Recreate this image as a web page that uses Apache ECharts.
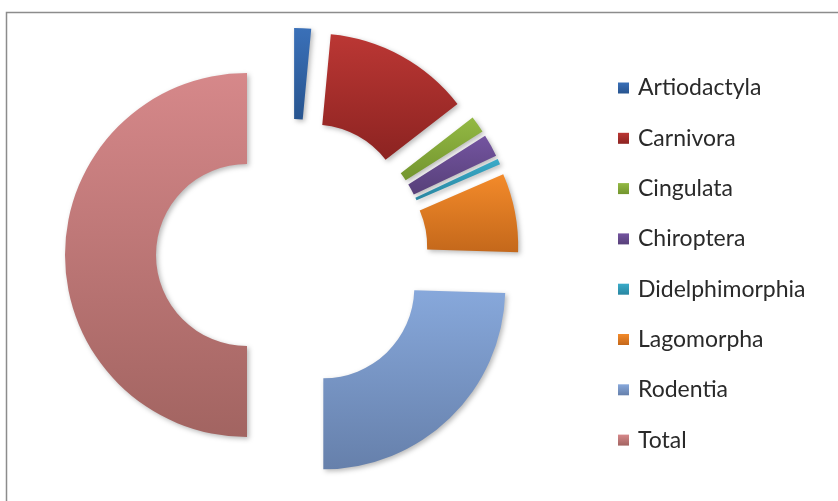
<!DOCTYPE html>
<html>
<head>
<meta charset="utf-8">
<style>
  html, body { margin: 0; padding: 0; background: #ffffff; }
  #chart { width: 838px; height: 501px; }
</style>
<script src="https://cdn.jsdelivr.net/npm/echarts@6/dist/echarts.min.js"></script>
</head>
<body>
<div id="chart"></div>
<script>
// Orders and their counts (Total is the sum of the other orders)
const categories = ['Artiodactyla', 'Carnivora', 'Cingulata', 'Chiroptera', 'Didelphimorphia', 'Lagomorpha', 'Rodentia', 'Total'];
const values = [3, 26, 3, 4, 1, 14, 49, 100];

// Top / bottom shades of each slice's vertical gradient
const topColors = ['#3a70b8', '#bb3734', '#93b944', '#7454a0', '#3aabc9', '#f38a2a', '#87a8db', '#d6888a'];
const bottomColors = ['#27548f', '#8c2321', '#73952e', '#574079', '#2986a1', '#c4681b', '#6680ab', '#a26461'];

function grad(i) {
  return {
    type: 'linear', x: 0, y: 0, x2: 0, y2: 1,
    colorStops: [
      { offset: 0, color: topColors[i] },
      { offset: 1, color: bottomColors[i] }
    ]
  };
}

const chart = echarts.init(document.getElementById('chart'), null, { renderer: 'canvas' });

const seriesData = categories.map((name, i) => ({
  name: name,
  value: values[i],
  selected: true,
  itemStyle: { color: grad(i) },
  select: { itemStyle: { color: grad(i) } }
}));

chart.setOption({
  backgroundColor: '#ffffff',
  animation: false,
  graphic: [{
    type: 'rect',
    shape: { x: 6.5, y: 12.5, width: 900, height: 600 },
    style: { fill: 'none', stroke: '#8c8c8c', lineWidth: 1.5 },
    silent: true
  }],
  legend: {
    orient: 'vertical',
    left: 618,
    top: 76,
    padding: 0,
    icon: 'rect',
    itemWidth: 11,
    itemHeight: 11,
    itemGap: 26.3,
    selectedMode: false,
    textStyle: {
      fontFamily: 'Lato',
      fontSize: 23,
      lineHeight: 24,
      color: '#2a2a2a',
      padding: [0, 0, 0, 4]
    },
    data: categories
  },
  series: [{
    type: 'pie',
    center: [292, 255],
    radius: [91, 182],
    startAngle: 90,
    clockwise: true,
    selectedMode: 'multiple',
    selectedOffset: 45,
    avoidLabelOverlap: false,
    label: { show: false },
    labelLine: { show: false },
    emphasis: { scale: false },
    itemStyle: {
      shadowBlur: 5,
      shadowOffsetX: 2,
      shadowOffsetY: 2,
      shadowColor: 'rgba(0,0,0,0.28)'
    },
    data: seriesData
  }]
});
</script>
</body>
</html>
